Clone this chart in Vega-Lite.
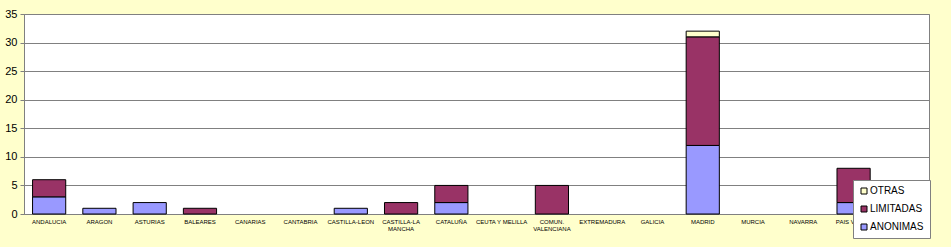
{
  "$schema": "https://vega.github.io/schema/vega-lite/v6.json",
  "autosize": {"type": "none"},
  "width": 905,
  "height": 200,
  "padding": {"left": 24, "top": 14, "right": 22, "bottom": 33},
  "background": "#FFFFCC",
  "config": {
    "font": "Liberation Sans",
    "view": {"fill": "#FFFFFF", "stroke": "#808080", "strokeWidth": 1}
  },
  "data": {
    "values": [
      {"region": "ANDALUCIA", "tipo": "ANONIMAS", "n": 3},
      {"region": "ANDALUCIA", "tipo": "LIMITADAS", "n": 3},
      {"region": "ARAGON", "tipo": "ANONIMAS", "n": 1},
      {"region": "ASTURIAS", "tipo": "ANONIMAS", "n": 2},
      {"region": "BALEARES", "tipo": "LIMITADAS", "n": 1},
      {"region": "CANARIAS", "tipo": "ANONIMAS", "n": 0},
      {"region": "CANTABRIA", "tipo": "ANONIMAS", "n": 0},
      {"region": "CASTILLA-LEON", "tipo": "ANONIMAS", "n": 1},
      {"region": "CASTILLA-LA MANCHA", "tipo": "LIMITADAS", "n": 2},
      {"region": "CATALUÑA", "tipo": "ANONIMAS", "n": 2},
      {"region": "CATALUÑA", "tipo": "LIMITADAS", "n": 3},
      {"region": "CEUTA Y MELILLA", "tipo": "ANONIMAS", "n": 0},
      {"region": "COMUN. VALENCIANA", "tipo": "LIMITADAS", "n": 5},
      {"region": "EXTREMADURA", "tipo": "ANONIMAS", "n": 0},
      {"region": "GALICIA", "tipo": "ANONIMAS", "n": 0},
      {"region": "MADRID", "tipo": "ANONIMAS", "n": 12},
      {"region": "MADRID", "tipo": "LIMITADAS", "n": 19},
      {"region": "MADRID", "tipo": "OTRAS", "n": 1},
      {"region": "MURCIA", "tipo": "ANONIMAS", "n": 0},
      {"region": "NAVARRA", "tipo": "ANONIMAS", "n": 0},
      {"region": "PAIS VASCO", "tipo": "ANONIMAS", "n": 2},
      {"region": "PAIS VASCO", "tipo": "LIMITADAS", "n": 6},
      {"region": "RIOJA", "tipo": "ANONIMAS", "n": 0}
    ]
  },
  "mark": {"type": "bar", "stroke": "#000000", "strokeWidth": 1},
  "encoding": {
    "x": {
      "field": "region",
      "type": "nominal",
      "sort": null,
      "scale": {"paddingInner": 0.34, "paddingOuter": 0.17},
      "axis": {
        "title": null,
        "labelAngle": 0,
        "labelFontSize": 6,
        "labelColor": "#000000",
        "labelPadding": 4,
        "labelLineHeight": 7,
        "labelExpr": "datum.label == 'CASTILLA-LA MANCHA' ? ['CASTILLA-LA', 'MANCHA'] : datum.label == 'COMUN. VALENCIANA' ? ['COMUN.', 'VALENCIANA'] : datum.label == 'RIOJA' ? '' : datum.label",
        "ticks": false,
        "domain": false,
        "grid": false
      }
    },
    "y": {
      "field": "n",
      "type": "quantitative",
      "stack": "zero",
      "scale": {"domain": [0, 35]},
      "axis": {
        "title": null,
        "values": [0, 5, 10, 15, 20, 25, 30, 35],
        "labelFontSize": 11,
        "labelColor": "#000000",
        "labelPadding": 3,
        "tickSize": 4,
        "tickColor": "#808080",
        "domainColor": "#808080",
        "gridColor": "#808080",
        "gridOpacity": 1
      }
    },
    "color": {
      "field": "tipo",
      "type": "nominal",
      "scale": {
        "domain": ["OTRAS", "LIMITADAS", "ANONIMAS"],
        "range": ["#FFFFCC", "#993366", "#9999FF"]
      },
      "legend": {
        "title": null,
        "orient": "none",
        "legendX": 829,
        "legendY": 166,
        "symbolType": "square",
        "symbolSize": 36,
        "symbolStrokeColor": "#000000",
        "symbolStrokeWidth": 1,
        "labelFontSize": 10,
        "labelColor": "#000000",
        "labelOffset": 1,
        "rowPadding": 8,
        "padding": 6,
        "fillColor": "#FFFFFF",
        "strokeColor": "#808080"
      }
    },
    "strokeOpacity": {
      "condition": {"test": "datum.n == 0", "value": 0},
      "value": 1
    },
    "order": {"field": "tipo", "sort": "ascending"}
  }
}
